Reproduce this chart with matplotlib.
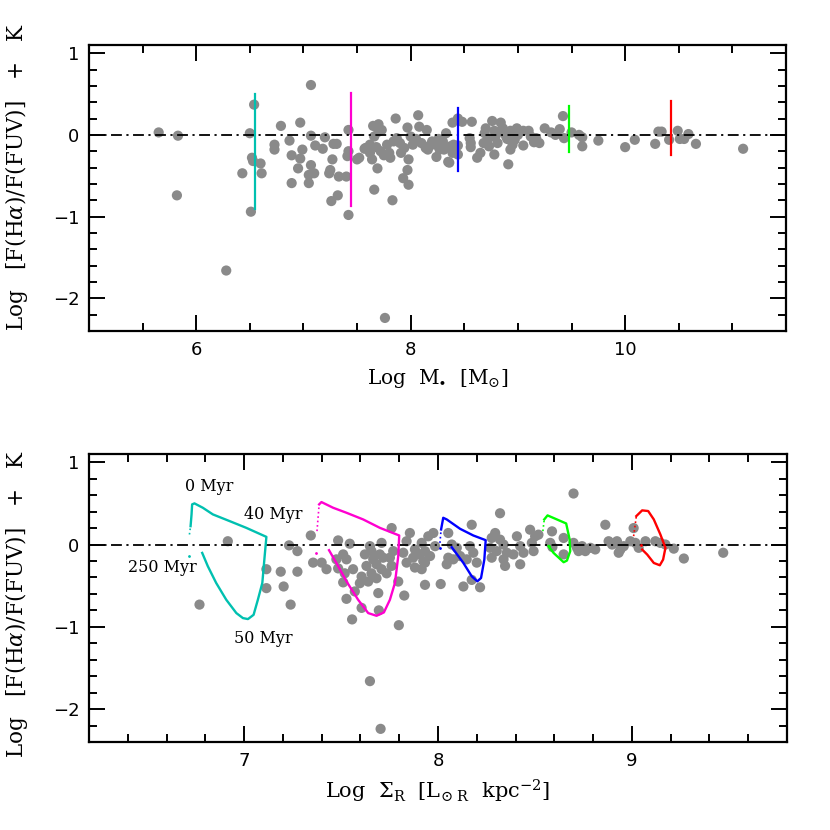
import matplotlib
matplotlib.use("Agg")
import matplotlib.pyplot as plt
from matplotlib.ticker import MultipleLocator
import numpy as np

plt.rcParams['mathtext.fontset'] = 'dejavuserif'

# ---------------- data: top panel (log M*, ratio) ----------------
mass_x = [5.65, 5.83, 5.82, 6.28, 6.50, 6.54, 6.51, 6.43, 6.52, 6.53, 6.60, 6.61, 6.79, 6.73, 6.73,
          6.87, 6.97, 6.89, 6.99, 6.97, 6.95, 6.89, 7.07, 7.07, 7.05, 7.10, 7.05, 7.07, 7.11, 7.18,
          7.20, 7.24, 7.25, 7.27, 7.28, 7.31, 7.33, 7.40, 7.32, 7.26, 7.42, 7.42, 7.42, 7.41, 7.50,
          7.52, 7.57, 7.58, 7.66, 7.83, 7.69, 7.93, 7.97, 7.98, 7.76, 7.86, 7.65, 7.70, 7.73, 7.66,
          7.70, 7.64, 7.62, 7.62, 7.68, 7.72, 7.75, 7.78, 7.80, 7.81, 7.84, 7.87, 7.90, 7.91, 7.94,
          7.97, 8.07, 8.08, 8.15, 8.05, 8.00, 8.02, 8.10, 8.14, 8.16, 8.20, 8.18, 8.24, 8.23, 8.26,
          8.35, 8.33, 8.27, 8.36, 8.39, 8.44, 8.44, 8.40, 8.39, 8.44, 8.48, 8.57, 8.55, 8.56, 8.65,
          8.69, 8.72, 8.73, 8.76, 8.84, 8.78, 8.83, 8.78, 8.79, 8.89, 8.90, 8.93, 8.99, 8.93, 8.91,
          8.97, 9.05, 9.10, 9.15, 9.20, 9.17, 9.25, 9.31, 9.35, 9.39, 9.42, 9.43, 9.50, 9.57, 9.60,
          9.60, 9.75, 10.00, 10.09, 10.28, 10.31, 10.34, 10.41, 10.49, 10.51, 10.55, 10.59, 10.66, 11.10,
          7.98, 8.30, 8.31, 8.37, 8.56, 8.62, 8.68, 8.70, 8.81, 8.86, 8.95, 9.00, 9.12, 9.05]
mass_y = [0.03, -0.01, -0.74, -1.66, 0.02, 0.37, -0.94, -0.47, -0.28, -0.32, -0.35, -0.47, 0.11, -0.12, -0.18,
          -0.07, 0.15, -0.25, -0.18, -0.29, -0.41, -0.59, -0.01, -0.37, -0.49, -0.47, -0.59, 0.61, -0.13, -0.17,
          -0.03, -0.47, -0.43, -0.30, -0.11, -0.11, -0.51, -0.51, -0.74, -0.81, -0.98, 0.06, -0.20, -0.26, -0.30,
          -0.28, -0.17, -0.16, -0.67, -0.80, -0.41, -0.53, -0.43, -0.61, -2.24, 0.20, 0.11, 0.13, 0.06, -0.02,
          0.04, -0.30, -0.22, -0.12, -0.15, -0.20, -0.25, -0.12, -0.22, -0.28, -0.08, -0.04, -0.10, -0.22, -0.16,
          0.09, 0.24, 0.10, 0.06, -0.05, -0.02, -0.12, -0.10, -0.16, -0.18, -0.08, -0.13, -0.27, -0.12, -0.05,
          -0.33, 0.02, -0.18, -0.34, -0.22, -0.24, -0.13, -0.12, 0.15, 0.20, 0.16, 0.16, -0.04, -0.15, -0.22,
          0.02, -0.06, -0.14, 0.17, 0.15, 0.05, 0.04, -0.24, -0.02, -0.02, -0.05, 0.05, 0.08, -0.18, -0.36,
          -0.06, -0.13, 0.05, -0.09, -0.10, -0.04, 0.08, 0.03, 0.00, 0.07, 0.23, -0.04, 0.03, 0.00, -0.03,
          -0.14, -0.07, -0.15, -0.06, -0.11, 0.04, 0.04, -0.06, 0.05, -0.05, -0.05, 0.01, -0.11, -0.17,
          -0.30, -0.08, -0.18, -0.14, -0.10, -0.28, -0.10, 0.08, -0.10, 0.08, -0.12, 0.00, -0.02, 0.05]

# ---------------- data: bottom panel (log Sigma_R, ratio) ----------------
sig_x = [6.916, 6.770, 7.115, 7.115, 7.189, 7.204, 7.232, 7.275, 7.275, 7.240, 7.344, 7.356, 7.400, 7.425,
         7.485, 7.545, 7.476, 7.511, 7.528, 7.485, 7.519, 7.562, 7.511, 7.571, 7.528, 7.606, 7.557, 7.623,
         7.649, 7.657, 7.666, 7.700, 7.717, 7.683, 7.631, 7.657, 7.606, 7.640, 7.597, 7.683, 7.709, 7.752,
         7.769, 7.761, 7.735, 7.692, 7.695, 7.761, 7.709, 7.795, 7.826, 7.798, 7.649, 7.704, 7.855, 7.838,
         7.881, 7.821, 7.838, 7.872, 7.907, 7.933, 7.881, 7.916, 7.950, 7.933, 7.976, 7.916, 7.933, 7.959,
         7.924, 7.985, 8.053, 8.071, 8.097, 8.114, 8.165, 8.182, 8.148, 8.200, 8.053, 8.045, 8.079, 8.014,
         8.131, 8.174, 8.217, 8.174, 8.320, 8.277, 8.295, 8.320, 8.269, 8.303, 8.338, 8.355, 8.277, 8.338,
         8.346, 8.407, 8.424, 8.389, 8.441, 8.424, 8.475, 8.501, 8.484, 8.493, 8.518, 8.588, 8.648, 8.648,
         8.579, 8.590, 8.699, 8.717, 8.743, 8.760, 8.786, 8.811, 8.725, 8.863, 8.880, 8.898, 8.923, 8.941,
         8.932, 8.958, 8.992, 9.009, 9.018, 9.035, 9.070, 9.121, 9.147, 9.173, 9.216, 9.268, 9.471, 8.699]
sig_y = [0.04, -0.73, -0.30, -0.53, -0.33, -0.51, -0.01, -0.08, -0.33, -0.73, 0.11, -0.22, -0.22, -0.30,
         0.05, 0.01, -0.18, -0.12, -0.18, -0.29, -0.35, -0.30, -0.46, -0.57, -0.66, -0.77, -0.91, -0.12,
         -0.02, -0.08, -0.18, -0.12, -0.16, -0.24, -0.26, -0.35, -0.39, -0.45, -0.47, -0.41, -0.30, -0.16,
         -0.08, -0.26, -0.35, -0.59, -0.80, 0.20, 0.02, -0.45, -0.62, -0.98, -1.66, -2.24, 0.14, 0.04,
         -0.06, -0.10, -0.22, -0.16, -0.12, -0.22, -0.28, -0.30, 0.10, -0.49, 0.14, 0.02, -0.08, -0.14,
         -0.20, -0.02, 0.14, 0.00, -0.04, -0.14, -0.02, -0.10, -0.18, -0.22, -0.16, -0.24, -0.18, -0.48,
         -0.51, -0.43, -0.52, 0.24, 0.38, 0.08, 0.14, 0.06, -0.04, -0.08, 0.00, -0.10, -0.16, -0.18,
         -0.26, 0.10, -0.02, -0.12, -0.10, -0.24, 0.18, 0.10, 0.02, -0.08, 0.12, 0.16, 0.08, -0.12,
         0.02, -0.03, 0.02, -0.04, -0.02, -0.08, -0.04, -0.06, -0.08, 0.24, 0.04, 0.00, 0.04, -0.06,
         -0.10, -0.02, 0.04, 0.20, 0.02, -0.04, 0.04, 0.04, 0.02, 0.00, -0.05, -0.17, -0.10, 0.62]

# ---------------- model tracks ----------------
track_colors = ['#00c0b0', '#ff00d0', '#0000ff', '#00ff00', '#ff0000']
track_mass = [6.545, 7.44, 8.44, 9.475, 10.43]
track_sx = [
    [6.718, 6.724, 6.729, 6.732, 6.744, 6.787, 6.839, 6.925, 7.011, 7.115, 7.106, 7.094, 7.071, 7.049,
     7.020, 6.994, 6.960, 6.908, 6.856, 6.813, 6.784, 6.718],
    [7.376, 7.387, 7.399, 7.459, 7.528, 7.614, 7.700, 7.800, 7.795, 7.778, 7.752, 7.721, 7.683, 7.640,
     7.588, 7.528, 7.476, 7.438, 7.373],
    [8.010, 8.016, 8.027, 8.045, 8.114, 8.182, 8.246, 8.239, 8.222, 8.203, 8.174, 8.131, 8.071, 8.010],
    [8.541, 8.548, 8.565, 8.613, 8.661, 8.679, 8.682, 8.665, 8.648, 8.596, 8.570, 8.570],
    [9.009, 9.023, 9.053, 9.084, 9.113, 9.147, 9.173, 9.161, 9.144, 9.113, 9.079, 9.053, 9.048],
]
track_y = [
    [0.122, 0.223, 0.366, 0.488, 0.500, 0.447, 0.366, 0.285, 0.203, 0.093, -0.142, -0.467, -0.671, -0.854,
     -0.906, -0.894, -0.833, -0.671, -0.467, -0.264, -0.102, -0.134],
    [0.163, 0.488, 0.516, 0.447, 0.386, 0.305, 0.203, 0.110, -0.142, -0.467, -0.671, -0.825, -0.866, -0.833,
     -0.671, -0.447, -0.224, -0.069, -0.102],
    [0.020, 0.183, 0.325, 0.305, 0.191, 0.110, 0.053, -0.183, -0.407, -0.447, -0.386, -0.224, -0.033, -0.040],
    [0.163, 0.305, 0.354, 0.305, 0.256, 0.061, -0.081, -0.195, -0.215, -0.102, -0.020, -0.020],
    [0.102, 0.346, 0.415, 0.407, 0.305, 0.122, -0.041, -0.183, -0.252, -0.224, -0.122, -0.061, 0.000],
]

age_labels = ['0 Myr', '40 Myr', '250 Myr', '50 Myr']
age_x = [6.82, 7.15, 6.58, 7.10]
age_y = [0.71, 0.37, -0.28, -1.14]

# ---------------- figure ----------------
fig = plt.figure(figsize=(8.3, 8.3), dpi=100)
ax1 = fig.add_axes([0.1072, 0.6012, 0.8398, 0.3446])
ax2 = fig.add_axes([0.1072, 0.1060, 0.8410, 0.3470])

grey = '#8a8a8a'
serif = 'DejaVu Serif'
dd = (6, 2.5, 1.2, 2.5)
ylab = r'Log   [F(H$\alpha$)/F(FUV)]   +   K'

def style(ax):
    for s in ax.spines.values():
        s.set_linewidth(1.6)
    ax.tick_params(which='both', direction='in', top=True, right=True, width=1.4,
                   labelsize=13, pad=7)
    ax.tick_params(which='major', length=11.5)
    ax.tick_params(which='minor', length=5.5)
    ax.yaxis.set_major_locator(MultipleLocator(1))
    ax.yaxis.set_minor_locator(MultipleLocator(0.2))
    ax.set_ylim(-2.4, 1.1)
    ax.set_yticks([-2, -1, 0, 1])
    ax.set_yticklabels(['\u22122', '\u22121', '0', '1'])

# top panel
ax1.scatter(mass_x, mass_y, s=54, color=grey, edgecolors='none', zorder=2)
ax1.axhline(0, color='black', lw=1.3, dashes=dd, zorder=3)
for c, m, ty in zip(track_colors, track_mass, track_y):
    ax1.plot([m, m], [max(ty), min(ty)], color=c, lw=1.6, zorder=4)
ax1.set_xlim(5, 11.5)
ax1.xaxis.set_major_locator(MultipleLocator(2))
ax1.xaxis.set_minor_locator(MultipleLocator(0.5))
style(ax1)
ax1.set_xlabel(r'Log  M$_{\bullet}$  [M$_{\odot}$]', fontsize=14.5, family=serif, labelpad=6)
ax1.set_ylabel(ylab, fontsize=15.5, family=serif)
ax1.yaxis.set_label_coords(-0.084, 0.54)

# bottom panel
ax2.scatter(sig_x, sig_y, s=54, color=grey, edgecolors='none', zorder=2)
ax2.axhline(0, color='black', lw=1.3, dashes=dd, zorder=3)
for c, tx, ty in zip(track_colors, track_sx, track_y):
    ax2.plot(tx[:2], ty[:2], color=c, lw=1.2, ls=':', zorder=4)
    ax2.plot(tx[1:-1], ty[1:-1], color=c, lw=1.7, zorder=4)
    ax2.plot(tx[-1:], ty[-1:], color=c, marker='.', ms=2, zorder=4)
for t, x, y in zip(age_labels, age_x, age_y):
    ax2.text(x, y, t, fontsize=11.5, family=serif, ha='center', va='center')
ax2.set_xlim(6.2, 9.8)
ax2.xaxis.set_major_locator(MultipleLocator(1))
ax2.xaxis.set_minor_locator(MultipleLocator(0.2))
style(ax2)
ax2.set_xlabel(r'Log  $\Sigma_{\rm R}$  [L$_{\odot\ \rm R}$  kpc$^{-2}$]', fontsize=15, family=serif, labelpad=6)
ax2.set_ylabel(ylab, fontsize=15.5, family=serif)
ax2.yaxis.set_label_coords(-0.084, 0.48)

fig.savefig('out.png', dpi=100)
